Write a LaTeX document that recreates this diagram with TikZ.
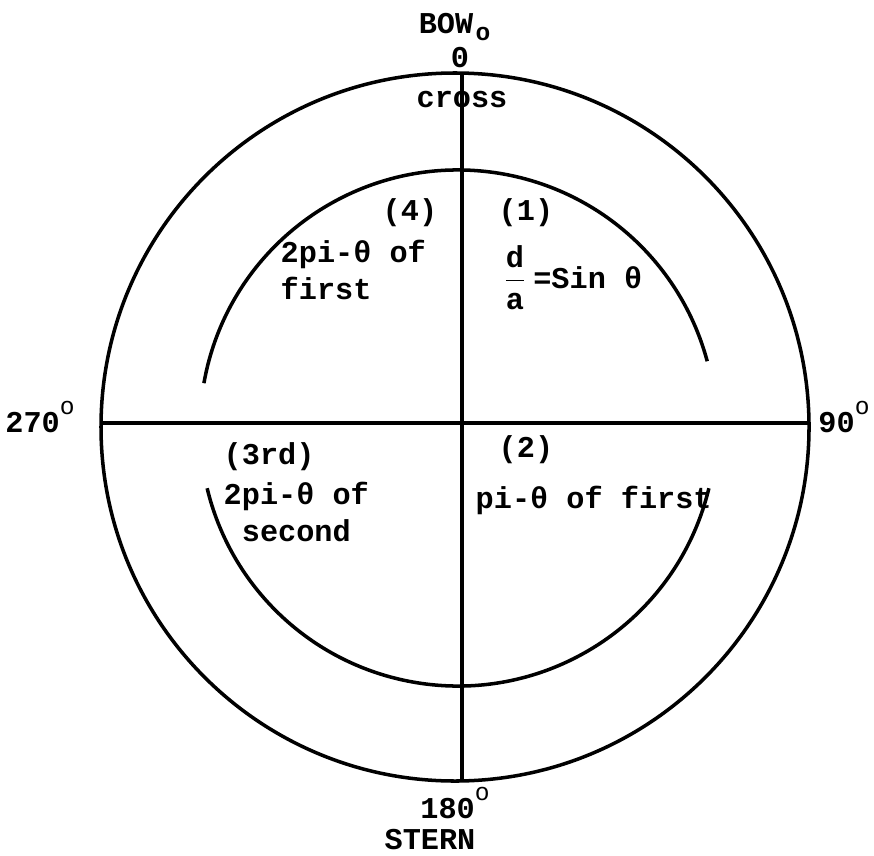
\documentclass[tikz,border=0pt]{standalone}
\usepackage{amsmath}
\usepackage{fontspec}
\setmonofont{Liberation Mono}
\usepackage{tikz}
\usetikzlibrary{positioning}
\tikzset{
  label text/.style={font=\ttfamily\bfseries\fontsize{8.6}{10.5}\selectfont, inner sep=0pt, align=left},
  ring/.style={line width=1pt},
  axis line/.style={line width=0.9pt}
}
\newcommand{\degmark}{\raisebox{1.1ex}{\fontsize{7}{8}\selectfont\mdseries o}}

\begin{document}
\begin{tikzpicture}[x=0.01cm, y=-0.01cm]
\useasboundingbox (0,0) rectangle (874,855);
% Outer compass circle
\coordinate (centre) at (455,427);
\draw[ring] (centre) circle[radius=354];
% Axes
\coordinate (bow) at (462,74);
\coordinate (stern) at (462,781);
\coordinate (port) at (101,423);
\coordinate (starboard) at (809,423);
\draw[axis line] (bow) -- (stern);
\draw[axis line] (port) -- (starboard);
% Inner arcs
\coordinate (inner) at (458,428);
\draw[ring] (inner) ++(13.5:258) arc[start angle=13.5, end angle=166.5, radius=258];
\draw[ring] (inner) ++(190:258) arc[start angle=190, end angle=345, radius=258];
% Heading marks
\node[label text] (bowlabel) at (446,24) {BOW};
\node[label text] (zero) at (460,58) {0};
\node[label text, font=\ttfamily\fontsize{7}{8}\selectfont\bfseries] (zerodeg) at (483,34) {o};
\node[label text] (east) at (844,417) {90\degmark};
\node[label text] (west) at (40,417) {270\degmark};
\node[label text] (south) at (455,803) {180\degmark};
\node[label text] (sternlabel) at (430,840) {STERN};
\node[label text] (cross) at (462,100) {cross};
% Quadrant texts
\node[label text, anchor=west] (q4) at (382,213) {(4)};
\node[label text, anchor=west] (q4text) at (280,270) {2pi-θ of\\first};
\node[label text, anchor=west] (q1) at (498,213) {(1)};
\node[label text, anchor=west] (q1text) at (501,278) {$\dfrac{\mbox{d}}{\mbox{a}}$\,=Sin θ};
\node[label text, anchor=west] (q3) at (223,457) {(3rd)};
\node[label text, anchor=west] (q3text) at (223,512) {2pi-θ of\\\ second};
\node[label text, anchor=west] (q2) at (498,450) {(2)};
\node[label text, anchor=west] (q2text) at (475,500) {pi-θ of first};
\end{tikzpicture}
\end{document}
